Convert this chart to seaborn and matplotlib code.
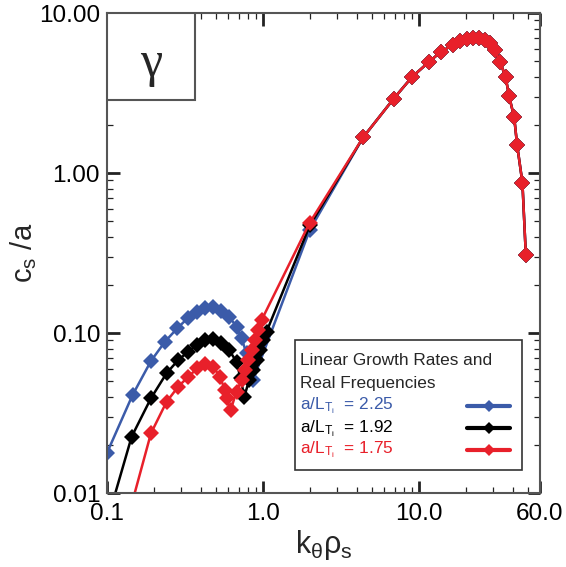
import numpy as np
import pandas as pd
import seaborn as sns
import matplotlib
matplotlib.use("Agg")
import matplotlib.pyplot as plt
from matplotlib.patches import Rectangle
from matplotlib.lines import Line2D
from matplotlib.ticker import FixedLocator, NullFormatter, LogLocator

# --- growth rates gamma (c_s/a) vs k_theta rho_s for three a/L_Ti values ---
# low-k (ITG / TEM) part for each gradient
k_blue = [0.10, 0.146, 0.1915, 0.2355, 0.2825, 0.329, 0.376, 0.425, 0.48,
          0.543, 0.608, 0.678, 0.73, 0.786, 0.866, 2.0]
g_blue = [0.0178, 0.041, 0.0668, 0.0883, 0.107, 0.1236, 0.1358, 0.1425, 0.1445,
          0.138, 0.1265, 0.1096, 0.0927, 0.0746, 0.0509, 0.44]

k_black = [0.10, 0.144, 0.1915, 0.241, 0.2865, 0.332, 0.376, 0.425, 0.48,
           0.543, 0.608, 0.678, 0.72, 0.76, 0.818, 0.866, 0.912, 0.957, 1.006,
           1.057, 2.0]
g_black = [0.0066, 0.0225, 0.0391, 0.056, 0.0678, 0.0764, 0.0841, 0.0904, 0.0912,
           0.087, 0.0783, 0.066, 0.052, 0.040, 0.0509, 0.0587, 0.0678, 0.0783,
           0.0904, 0.102, 0.47]

k_red = [0.10, 0.1915, 0.241, 0.2865, 0.332, 0.38, 0.425, 0.48, 0.531, 0.571,
         0.585, 0.621, 0.678, 0.73, 0.767, 0.805, 0.847, 0.889, 0.935, 0.982, 2.0]
g_red = [0.0023, 0.0236, 0.0371, 0.0462, 0.0533, 0.0601, 0.064, 0.0616, 0.0533,
         0.044, 0.039, 0.033, 0.043, 0.0509, 0.0587, 0.0678, 0.0783, 0.0904,
         0.1045, 0.1205, 0.49]

# high-k (ETG) part, common to all three gradients
k_high = [4.4, 6.9, 9.1, 11.7, 13.9, 16.5, 18.4, 20.3, 22.4, 24.4, 26.6, 28.6,
          30.8, 33.2, 36.1, 38.0, 41.0, 42.8, 46.3, 48.7]
g_high = [1.67, 2.91, 4.0, 4.97, 5.73, 6.3, 6.7, 6.9, 7.0, 6.98, 6.78, 6.46,
          5.87, 4.97, 4.0, 3.03, 2.23, 1.50, 0.87, 0.307]

grad_labels = ["2.25", "1.92", "1.75"]
colors = ["#3b5ba9", "#000000", "#e8202a"]

xtick_vals = [0.1, 1.0, 10.0, 60.0]
xtick_text = ["0.1", "1.0", "10.0", "60.0"]
ytick_vals = [0.01, 0.1, 1.0, 10.0]
ytick_text = ["0.01", "0.10", "1.00", "10.00"]

sns.set_theme(style="ticks")
plt.rcParams["font.family"] = ["Liberation Sans", "DejaVu Sans"]
plt.rcParams["mathtext.fontset"] = "custom"
plt.rcParams["mathtext.rm"] = "Liberation Sans"
plt.rcParams["mathtext.it"] = "Liberation Sans"
plt.rcParams["mathtext.bf"] = "Liberation Sans:bold"

fig = plt.figure(figsize=(5.66, 5.67), dpi=100)
ax = fig.add_axes([0.189, 0.1305, 0.765, 0.8465])

series = [(k_blue, g_blue), (k_black, g_black), (k_red, g_red)]
for (k, g), lab, c in zip(series, grad_labels, colors):
    df = pd.DataFrame({"k": list(k) + k_high, "gamma": list(g) + g_high})
    sns.lineplot(data=df, x="k", y="gamma", sort=False, estimator=None,
                 color=c, linewidth=1.8, marker="D", markersize=7.8,
                 markeredgewidth=0, ax=ax)

ax.set_xscale("log")
ax.set_yscale("log")
ax.set_xlim(0.1, 60.0)
ax.set_ylim(0.01, 10.0)

ax.xaxis.set_major_locator(FixedLocator(xtick_vals))
ax.set_xticklabels(xtick_text)
ax.xaxis.set_minor_locator(LogLocator(base=10, subs=np.arange(2, 10)))
ax.xaxis.set_minor_formatter(NullFormatter())
ax.yaxis.set_major_locator(FixedLocator(ytick_vals))
ax.set_yticklabels(ytick_text)
ax.yaxis.set_minor_locator(LogLocator(base=10, subs=np.arange(2, 10)))
ax.yaxis.set_minor_formatter(NullFormatter())

ax.tick_params(which="both", direction="in", top=True, right=True,
               colors="#222222", labelcolor="black")
ax.tick_params(which="major", length=9, width=2, labelsize=17.5)
ax.tick_params(which="minor", length=4, width=0.9)
ax.tick_params(axis="x", which="major", pad=7)
ax.tick_params(axis="y", which="major", pad=5)

for s in ax.spines.values():
    s.set_color("#555555")
    s.set_linewidth(1.5)

ax.set_xlabel(r"k$_{\mathregular{θ}}$ρ$_{\mathregular{s}}$", fontsize=22, labelpad=2)
ax.set_ylabel(r"c$_{\mathregular{s}}$ /a", fontsize=21, labelpad=0)

# gamma panel tag
ax.add_patch(Rectangle((0.0, 0.819), 0.203, 0.181, transform=ax.transAxes,
                       facecolor="white", edgecolor="#555555", linewidth=1.5,
                       zorder=5))
ax.text(0.102, 0.895, "γ", transform=ax.transAxes, fontsize=36,
        ha="center", va="center", zorder=6, family="Liberation Serif")

# legend box
ax.add_patch(Rectangle((0.434, 0.048), 0.524, 0.271, transform=ax.transAxes,
                       facecolor="white", edgecolor="#333333", linewidth=1.2,
                       zorder=5))
ax.text(0.446, 0.277, "Linear Growth Rates and", transform=ax.transAxes,
        fontsize=12.4, ha="left", va="center", zorder=6)
ax.text(0.446, 0.229, "Real Frequencies", transform=ax.transAxes,
        fontsize=12.4, ha="left", va="center", zorder=6)
row_y = [0.181, 0.135, 0.0896]
for lab, c, yy in zip(grad_labels, colors, row_y):
    ax.text(0.446, yy, r"a/L$_{\mathregular{T}_{\mathregular{i}}}$  = " + lab,
            transform=ax.transAxes, fontsize=12.4, color=c,
            ha="left", va="center", zorder=6)
    ax.add_line(Line2D([0.832, 0.931], [yy, yy], transform=ax.transAxes,
                       color=c, linewidth=3, zorder=6))
    ax.add_line(Line2D([0.8815], [yy], transform=ax.transAxes, color=c,
                       marker="D", markersize=6, markeredgewidth=0, zorder=7))

fig.savefig("out.png", dpi=100)
